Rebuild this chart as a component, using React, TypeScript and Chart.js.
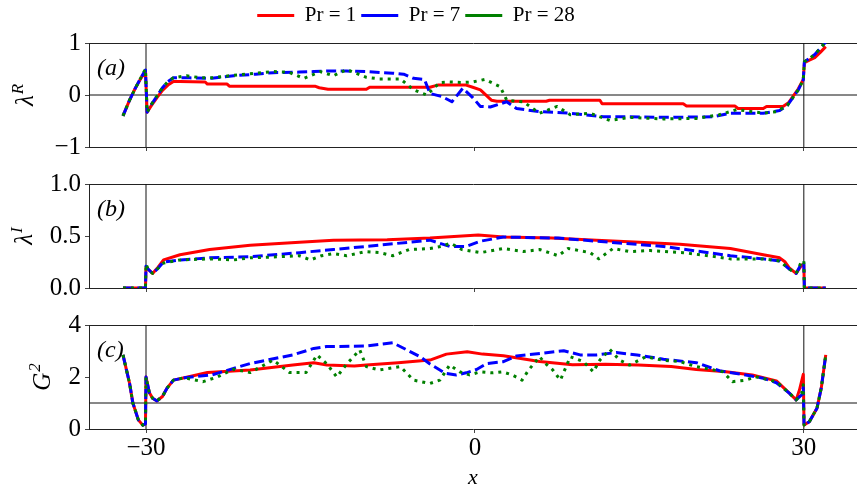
import React, { useEffect, useRef } from "react";
import { Chart, registerables } from "chart.js";

Chart.register(...registerables);

const FONT = '"Liberation Serif", "DejaVu Serif", serif';
const X_MIN = -35.2;
const X_MAX = 34.85;
const SHIFT = 25; // canvases start 25px left of the page so the legend centres where intended
const Y_AXIS_W = 89 + SHIFT;

const xTicks = [-30, 0, 30];
const markerX = [-30, 30];
const seriesNames = ["Pr = 1", "Pr = 7", "Pr = 28"];
const seriesColors = ["#ff0000", "#0000ff", "#008000"];
const seriesDash: number[][] = [[], [10, 4.5], [3, 5]];

// ---- (a) real part of the eigenvalue ----
const lamRTicks = [-1, 0, 1];
const lamRX1 = [-32.1, -31.5, -31.0, -30.5, -30.05, -29.9, -29.5, -29.0, -28.5, -28.0, -27.5, -26.9, -24.6, -24.4, -22.6, -22.4, -14.6, -14.2, -13.4, -9.9, -9.6, -4.1, -3.4, -0.8, -0.2, 0.5, 1.5, 2.0, 6.5, 6.8, 11.4, 11.6, 19.0, 19.3, 23.7, 24.0, 26.3, 26.6, 28.1, 28.6, 29.0, 29.5, 29.95, 30.05, 30.5, 31.0, 31.5, 32.0];
const lamRY1 = [-0.40, -0.10, 0.12, 0.31, 0.46, -0.33, -0.20, -0.05, 0.09, 0.19, 0.26, 0.26, 0.25, 0.21, 0.21, 0.17, 0.17, 0.14, 0.11, 0.11, 0.15, 0.15, 0.19, 0.19, 0.15, 0.10, -0.10, -0.12, -0.12, -0.10, -0.10, -0.17, -0.17, -0.21, -0.21, -0.26, -0.26, -0.22, -0.22, -0.15, -0.03, 0.12, 0.30, 0.62, 0.67, 0.72, 0.82, 0.93];
const lamRX7 = [-32.1, -31.5, -31.0, -30.5, -30.05, -29.9, -29.5, -29.0, -28.5, -28.0, -27.5, -26.0, -24.0, -22.0, -20.0, -18.4, -16.0, -14.7, -13.5, -11.7, -9.9, -7.5, -6.5, -5.6, -4.6, -4.1, -3.0, -2.1, -1.1, -0.2, 0.5, 1.4, 2.3, 2.9, 3.8, 5.9, 8.7, 11.7, 14.0, 17.1, 21.7, 23.3, 26.3, 27.8, 28.5, 29.0, 29.5, 29.95, 30.05, 30.5, 31.0, 31.5, 32.0];
const lamRY7 = [-0.40, -0.10, 0.12, 0.32, 0.48, -0.33, -0.18, -0.02, 0.14, 0.26, 0.33, 0.33, 0.32, 0.37, 0.40, 0.43, 0.44, 0.45, 0.46, 0.46, 0.45, 0.42, 0.40, 0.32, 0.30, 0.03, -0.03, -0.13, 0.13, -0.05, -0.22, -0.23, -0.17, -0.13, -0.26, -0.32, -0.35, -0.42, -0.42, -0.43, -0.42, -0.35, -0.35, -0.30, -0.20, -0.05, 0.10, 0.29, 0.64, 0.70, 0.78, 0.90, 1.02];
const lamRX28 = [-32.1, -31.5, -31.0, -30.5, -30.05, -29.9, -29.5, -29.0, -28.5, -28.0, -27.5, -26.3, -25.0, -24.0, -22.0, -20.0, -18.4, -17.0, -15.6, -14.1, -12.9, -11.7, -9.9, -8.7, -6.8, -5.6, -4.4, -3.2, -2.3, -1.1, -0.2, 0.9, 2.3, 2.9, 4.4, 5.9, 7.5, 8.7, 10.5, 12.3, 14.1, 17.2, 20.2, 22.3, 23.9, 26.3, 27.5, 28.5, 29.0, 29.5, 29.95, 30.05, 30.5, 31.0, 31.5, 32.0];
const lamRY28 = [-0.40, -0.10, 0.12, 0.32, 0.50, -0.33, -0.18, -0.02, 0.14, 0.26, 0.33, 0.37, 0.33, 0.33, 0.38, 0.42, 0.45, 0.44, 0.32, 0.45, 0.37, 0.49, 0.34, 0.31, 0.31, 0.10, 0.00, 0.24, 0.25, 0.24, 0.25, 0.30, 0.16, -0.10, -0.13, -0.35, -0.22, -0.38, -0.35, -0.49, -0.43, -0.46, -0.45, -0.38, -0.28, -0.35, -0.32, -0.20, -0.05, 0.10, 0.29, 0.64, 0.70, 0.78, 0.90, 1.02];

// ---- (b) imaginary part of the eigenvalue ----
const lamITicks = [0, 0.5, 1];
const lamIX1 = [-32.1, -30.05, -30.0, -29.8, -29.4, -28.9, -28.4, -26.9, -24.2, -20.5, -16.0, -12.9, -8.0, -4.1, 0.3, 2.6, 7.0, 11.1, 15.0, 18.7, 23.3, 26.3, 27.8, 28.3, 28.7, 29.3, 29.8, 30.0, 30.05, 32.0];
const lamIY1 = [0, 0, 0.20, 0.18, 0.14, 0.20, 0.27, 0.32, 0.37, 0.41, 0.44, 0.46, 0.465, 0.48, 0.51, 0.49, 0.48, 0.46, 0.44, 0.42, 0.38, 0.32, 0.29, 0.25, 0.19, 0.14, 0.22, 0.22, 0, 0];
const lamIX7 = [-32.1, -30.05, -30.0, -29.8, -29.4, -28.9, -28.4, -26.9, -24.2, -20.5, -16.0, -12.9, -9.9, -4.1, -2.3, -0.8, 0.5, 2.6, 7.6, 11.1, 17.2, 23.3, 26.3, 27.8, 28.7, 29.3, 29.8, 30.0, 30.05, 32.0];
const lamIY7 = [0, 0, 0.21, 0.18, 0.14, 0.19, 0.25, 0.27, 0.29, 0.30, 0.34, 0.37, 0.40, 0.46, 0.40, 0.40, 0.45, 0.49, 0.48, 0.45, 0.40, 0.31, 0.28, 0.26, 0.18, 0.14, 0.24, 0.24, 0, 0];
const lamIX28 = [-32.1, -30.05, -30.0, -29.8, -29.4, -28.9, -28.4, -26.9, -24.2, -22.0, -20.5, -18.0, -16.0, -15.0, -14.0, -12.9, -11.7, -10.0, -8.7, -7.5, -6.0, -4.1, -3.1, -2.2, -1.2, 0.5, 1.6, 2.6, 4.4, 5.9, 7.6, 8.5, 10.5, 11.3, 12.6, 14.1, 16.0, 19.0, 22.0, 23.3, 26.3, 27.8, 28.7, 29.3, 29.8, 30.0, 30.05, 32.0];
const lamIY28 = [0, 0, 0.23, 0.18, 0.14, 0.19, 0.24, 0.27, 0.28, 0.27, 0.29, 0.30, 0.31, 0.27, 0.31, 0.33, 0.31, 0.35, 0.34, 0.31, 0.37, 0.38, 0.40, 0.43, 0.37, 0.34, 0.36, 0.38, 0.35, 0.37, 0.31, 0.38, 0.34, 0.28, 0.38, 0.35, 0.36, 0.34, 0.30, 0.28, 0.28, 0.26, 0.18, 0.14, 0.26, 0.26, 0, 0];

// ---- (c) growth factor ----
const g2Ticks = [0, 2, 4];
const g2EdgeX = [-32.1, -31.8, -31.5, -31.2, -30.7, -30.3, -30.05, -30.0, -29.7, -29.4, -29.0, -28.5, -28.1, -27.5, -26.5];
const g2EdgeY = [2.85, 2.3, 1.76, 1.0, 0.35, 0.15, 0.2, 2.0, 1.4, 1.18, 1.08, 1.25, 1.56, 1.88, 1.97];
const g2X1 = [-24.4, -20.5, -16.6, -14.7, -13.5, -11.0, -9.9, -7.0, -4.1, -2.6, -0.7, 0.7, 2.6, 5.9, 8.9, 11.9, 14.9, 17.9, 20.2, 22.9, 25.3, 27.5, 28.7, 29.3, 29.6, 29.95, 30.02, 30.5, 31.2, 31.6, 32.0];
const g2Y1 = [2.17, 2.27, 2.46, 2.55, 2.46, 2.42, 2.46, 2.55, 2.65, 2.88, 2.97, 2.88, 2.82, 2.6, 2.47, 2.49, 2.46, 2.4, 2.29, 2.2, 2.08, 1.85, 1.37, 1.12, 1.5, 2.1, 0.15, 0.28, 0.8, 1.6, 2.85];
const g2X7 = [-24.0, -20.5, -16.6, -14.7, -13.5, -9.9, -7.5, -6.2, -5.0, -4.1, -2.7, -1.7, -0.8, 0.15, 1.1, 2.6, 3.8, 6.0, 8.1, 9.6, 11.1, 12.9, 14.8, 17.2, 20.2, 22.3, 24.7, 26.3, 27.5, 28.7, 29.3, 29.8, 29.95, 30.02, 30.5, 31.2, 31.6, 32.0];
const g2Y7 = [2.08, 2.52, 2.85, 3.1, 3.17, 3.19, 3.32, 3.04, 2.78, 2.5, 2.14, 2.08, 2.16, 2.29, 2.52, 2.59, 2.81, 2.91, 3.01, 2.85, 2.85, 2.94, 2.85, 2.68, 2.55, 2.24, 2.08, 1.95, 1.78, 1.37, 1.12, 1.31, 1.6, 0.15, 0.28, 0.8, 1.6, 2.85];
const g2X28 = [-24.8, -23.5, -22.0, -20.5, -18.4, -16.9, -15.4, -14.4, -13.5, -12.6, -11.7, -10.5, -9.9, -8.7, -6.8, -5.6, -4.1, -3.2, -2.3, -1.4, -0.5, 0.5, 1.6, 2.5, 3.4, 4.3, 4.9, 5.9, 6.4, 7.1, 7.8, 8.7, 9.9, 10.8, 11.4, 12.3, 13.2, 14.1, 15.6, 17.1, 18.7, 20.2, 22.6, 23.5, 24.7, 25.6, 27.5, 28.7, 29.3, 29.8, 29.95, 30.02, 30.5, 31.2, 31.6, 32.0];
const g2Y28 = [1.82, 2.0, 2.3, 2.17, 2.65, 2.17, 2.17, 2.85, 2.5, 2.0, 2.5, 3.04, 2.4, 2.27, 2.4, 1.88, 1.75, 1.88, 2.46, 2.2, 2.08, 2.2, 2.16, 2.2, 2.08, 1.88, 2.27, 2.78, 2.53, 2.27, 1.88, 2.78, 2.59, 2.2, 2.65, 3.06, 2.65, 2.46, 2.78, 2.65, 2.59, 2.4, 2.2, 1.82, 1.88, 2.01, 1.82, 1.37, 1.12, 1.37, 1.7, 0.15, 0.28, 0.8, 1.6, 2.85];

const fmtSigned = (v: number) => (v < 0 ? "\u2212" + Math.abs(v) : String(v));
const fmtOneDecimal = (v: number) => v.toFixed(1);

type PanelSpec = {
  top: number;
  height: number;
  padTop: number;
  topGap: number;
  bottomH: number;
  yMin: number;
  yMax: number;
  yTicks: number[];
  fmt: (v: number) => string;
  series: [number[], number[]][];
  hLine: number | null;
  tag: string;
  base: string;
  sup: string;
  labelX: number;
  legend: boolean;
  xLabels: boolean;
};

const panels: PanelSpec[] = [
  {
    top: 0, height: 160, padTop: 0, topGap: 7, bottomH: 13,
    yMin: -1, yMax: 1, yTicks: lamRTicks, fmt: fmtSigned,
    series: [[lamRX1, lamRY1], [lamRX7, lamRY7], [lamRX28, lamRY28]],
    hLine: 0, tag: "(a)", base: "\u03bb", sup: "R", labelX: 33, legend: true, xLabels: false,
  },
  {
    top: 160, height: 141, padTop: 24, topGap: 0, bottomH: 13,
    yMin: 0, yMax: 1, yTicks: lamITicks, fmt: fmtOneDecimal,
    series: [[lamIX1, lamIY1], [lamIX7, lamIY7], [lamIX28, lamIY28]],
    hLine: null, tag: "(b)", base: "\u03bb", sup: "I", labelX: 32, legend: false, xLabels: false,
  },
  {
    top: 300, height: 191, padTop: 25, topGap: 0, bottomH: 62,
    yMin: 0, yMax: 4, yTicks: g2Ticks, fmt: fmtSigned,
    series: [
      [g2EdgeX.concat(g2X1), g2EdgeY.concat(g2Y1)],
      [g2EdgeX.concat(g2X7), g2EdgeY.concat(g2Y7)],
      [g2EdgeX.concat(g2X28), g2EdgeY.concat(g2Y28)],
    ],
    hLine: 1, tag: "(c)", base: "G", sup: "2", labelX: 50, legend: false, xLabels: true,
  },
];

// Panel tag and the rotated y-axis label with a superscript
const panelTextPlugin = {
  id: "panelText",
  afterDraw(chart: any, _args: any, opts: any) {
    const { ctx, chartArea } = chart;
    ctx.save();
    ctx.fillStyle = "#000";
    ctx.font = `italic 24px ${FONT}`;
    ctx.textAlign = "left";
    ctx.textBaseline = "middle";
    ctx.fillText(opts.tag, chartArea.left + 8, chartArea.top + 26);

    const cy = (chartArea.top + chartArea.bottom) / 2;
    const baseFont = `italic 25px ${FONT}`;
    const supFont = `italic 17px ${FONT}`;
    ctx.translate(opts.labelX + SHIFT, cy);
    ctx.rotate(-Math.PI / 2);
    ctx.textBaseline = "alphabetic";
    ctx.font = baseFont;
    const w1 = ctx.measureText(opts.base).width;
    ctx.font = supFont;
    const w2 = ctx.measureText(opts.sup).width;
    const start = -(w1 + w2 + 1) / 2;
    ctx.font = baseFont;
    ctx.fillText(opts.base, start, 0);
    ctx.font = supFont;
    ctx.fillText(opts.sup, start + w1 + 1, -10);
    ctx.restore();
  },
};

function Panel({ spec }: { spec: PanelSpec }) {
  const ref = useRef<HTMLCanvasElement | null>(null);

  useEffect(() => {
    if (!ref.current) return;
    const datasets: any[] = spec.series.map(([xs, ys], i) => ({
      label: seriesNames[i],
      data: xs.map((x, k) => ({ x, y: ys[k] })),
      borderColor: seriesColors[i],
      backgroundColor: seriesColors[i],
      borderWidth: 3,
      borderDash: seriesDash[i],
      borderCapStyle: "butt",
      borderJoinStyle: "round",
      pointRadius: 0,
      tension: 0,
      fill: false,
      order: 3 - i,
    }));
    markerX.forEach((mx) =>
      datasets.push({
        label: "",
        data: [{ x: mx, y: spec.yMin }, { x: mx, y: spec.yMax }],
        borderColor: "#111",
        borderWidth: 1,
        pointRadius: 0,
        fill: false,
        order: 10,
      })
    );
    if (spec.hLine !== null) {
      datasets.push({
        label: "",
        data: [{ x: X_MIN, y: spec.hLine }, { x: X_MAX, y: spec.hLine }],
        borderColor: "#111",
        borderWidth: 1,
        pointRadius: 0,
        fill: false,
        order: 10,
      });
    }

    const axisGrid = {
      display: true,
      drawOnChartArea: false,
      drawTicks: true,
      tickLength: 4,
      color: "#444",
      lineWidth: 1,
    };
    const axisBorder = { display: true, color: "#222", width: 1 };
    const xTickFont = { family: FONT, size: 25, lineHeight: 1 };
    // small line height keeps the y labels from padding the plot area
    const yTickFont = { family: FONT, size: 25, lineHeight: 0.5 };

    const chart = new Chart(ref.current, {
      type: "line",
      data: { datasets },
      options: {
        responsive: false,
        animation: false,
        devicePixelRatio: 1,
        events: [],
        layout: { padding: { top: spec.padTop, left: 0, right: 0, bottom: 0 } },
        plugins: {
          tooltip: { enabled: false },
          legend: spec.legend
            ? {
                display: true,
                position: "top",
                align: "center",
                labels: {
                  usePointStyle: true,
                  pointStyle: "line",
                  pointStyleWidth: 37,
                  boxHeight: 21,
                  padding: 5,
                  color: "#000",
                  font: { family: FONT, size: 21 },
                  filter: (item: any) => item.datasetIndex < 3,
                  sort: (a: any, b: any) => a.datasetIndex - b.datasetIndex,
                },
              }
            : { display: false },
          panelText: { tag: spec.tag, base: spec.base, sup: spec.sup, labelX: spec.labelX },
        } as any,
        scales: {
          x: {
            type: "linear",
            position: "bottom",
            min: X_MIN,
            max: X_MAX,
            afterBuildTicks: (s: any) => {
              s.ticks = xTicks.map((v) => ({ value: v }));
            },
            afterFit: (s: any) => {
              s.height = spec.bottomH;
            },
            grid: axisGrid,
            border: axisBorder,
            ticks: {
              display: spec.xLabels,
              padding: 3,
              color: "#000",
              font: xTickFont,
              maxRotation: 0,
              autoSkip: false,
              callback: (v: any) => fmtSigned(Number(v)),
            },
            title: {
              display: spec.xLabels,
              text: "x",
              color: "#000",
              font: { family: FONT, size: 22, style: "italic" },
              padding: 0,
            },
          },
          xTop: {
            type: "linear",
            axis: "x",
            position: "top",
            min: X_MIN,
            max: X_MAX,
            afterFit: (s: any) => {
              s.height = spec.topGap;
            },
            grid: { display: false, drawTicks: false },
            border: axisBorder,
            ticks: { display: false },
          },
          y: {
            type: "linear",
            position: "left",
            min: spec.yMin,
            max: spec.yMax,
            afterBuildTicks: (s: any) => {
              s.ticks = spec.yTicks.map((v) => ({ value: v }));
            },
            afterFit: (s: any) => {
              s.width = Y_AXIS_W;
            },
            grid: axisGrid,
            border: axisBorder,
            ticks: {
              padding: 4,
              color: "#000",
              font: yTickFont,
              callback: (v: any) => spec.fmt(Number(v)),
            },
          },
        } as any,
      },
      plugins: [panelTextPlugin as any],
    });
    return () => chart.destroy();
  }, [spec]);

  return (
    <canvas
      ref={ref}
      width={857 + SHIFT}
      height={spec.height}
      style={{
        position: "absolute",
        left: -SHIFT,
        top: spec.top,
        width: 857 + SHIFT,
        height: spec.height,
      }}
    />
  );
}

export default function App() {
  return (
    <div
      style={{
        position: "absolute",
        left: 0,
        top: 0,
        width: 857,
        height: 491,
        overflow: "hidden",
        background: "#fff",
      }}
    >
      {panels.map((p, i) => (
        <Panel key={i} spec={p} />
      ))}
    </div>
  );
}
